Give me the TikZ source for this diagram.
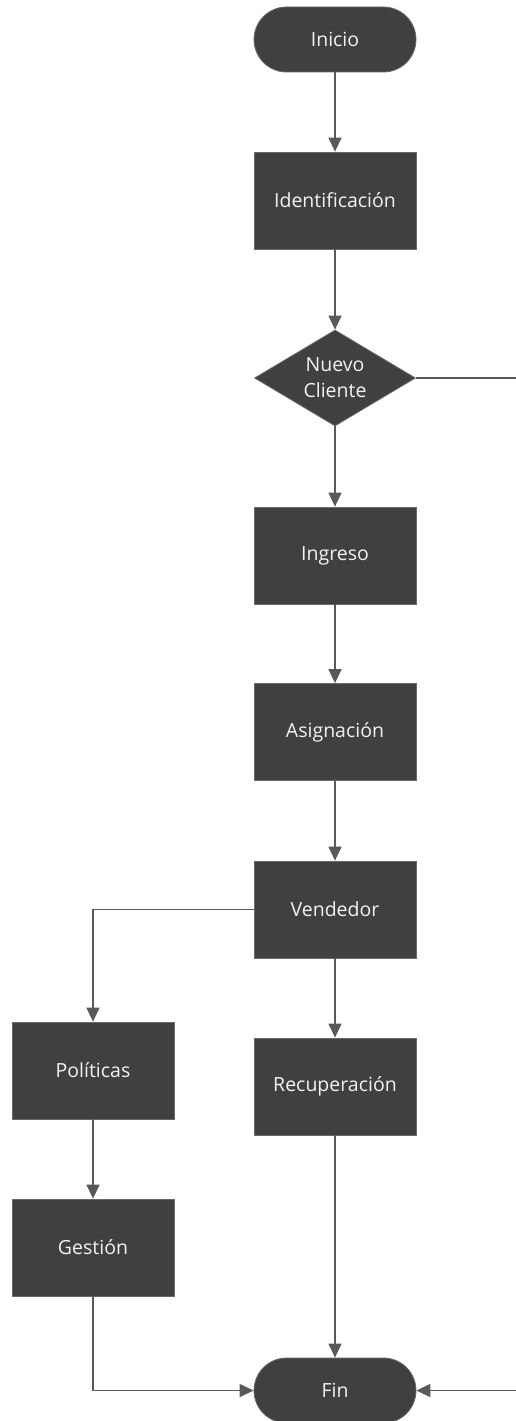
\documentclass[tikz,border=0pt]{standalone}
\usepackage{fontspec}
\setmainfont{Open Sans}
\usetikzlibrary{arrows.meta,shapes.geometric}
\definecolor{boxfill}{HTML}{404040}
\definecolor{boxedge}{HTML}{6A6A6A}
\definecolor{wire}{HTML}{595959}
\definecolor{label}{HTML}{F2F2F2}
\begin{document}
\begin{tikzpicture}[x=1pt,y=-1pt,
  base/.style={fill=boxfill,draw=boxedge,line width=0.8pt,text=label,
    font=\fontsize{19.5}{26}\selectfont,align=center,inner sep=0pt},
  procbox/.style={base,rectangle,minimum width=162pt,minimum height=97pt},
  termbox/.style={base,rectangle,rounded corners=32.5pt,minimum width=162pt,minimum height=65pt},
  decbox/.style={base,diamond,aspect=1.68,minimum width=161pt,minimum height=96pt},
  flow/.style={draw=wire,line width=1.4pt,-{Triangle[width=13pt,length=14pt]}},
  wireline/.style={draw=wire,line width=1.4pt}]
\useasboundingbox (0,0) rectangle (516,1421);

% nodes of the flow
\node[termbox] (inicio)  at (335,39.5)   {Inicio};
\node[procbox] (ident)   at (335,200.5)  {Identificación};
\node[decbox]  (nuevo)   at (335,378)    {Nuevo\\Cliente};
\node[procbox] (ingreso) at (335,555.5)  {Ingreso};
\node[procbox] (asig)    at (335,732)    {Asignación};
\node[procbox] (vend)    at (335,909.5)  {Vendedor};
\node[procbox] (pol)     at (93,1070.5)  {Políticas};
\node[procbox] (recup)   at (335,1086.5) {Recuperación};
\node[procbox] (gest)    at (93,1247.5)  {Gestión};
\node[termbox] (fin)     at (335,1390.5) {Fin};

% free ends at the right margin
\coordinate (exitR)  at (516,378);
\coordinate (entryR) at (516,1390.5);

% connectors
\draw[flow] (inicio) -- (ident);
\draw[flow] (ident) -- (nuevo);
\draw[flow] (nuevo) -- (ingreso);
\draw[wireline] (nuevo.east) -- (exitR);
\draw[flow] (ingreso) -- (asig);
\draw[flow] (asig) -- (vend);
\draw[flow] (vend.west) -| (pol.north);
\draw[flow] (vend) -- (recup);
\draw[flow] (pol) -- (gest);
\draw[flow] (gest.south) |- (fin.west);
\draw[flow] (recup) -- (fin);
\draw[flow] (entryR) -- (fin.east);
\end{tikzpicture}
\end{document}
